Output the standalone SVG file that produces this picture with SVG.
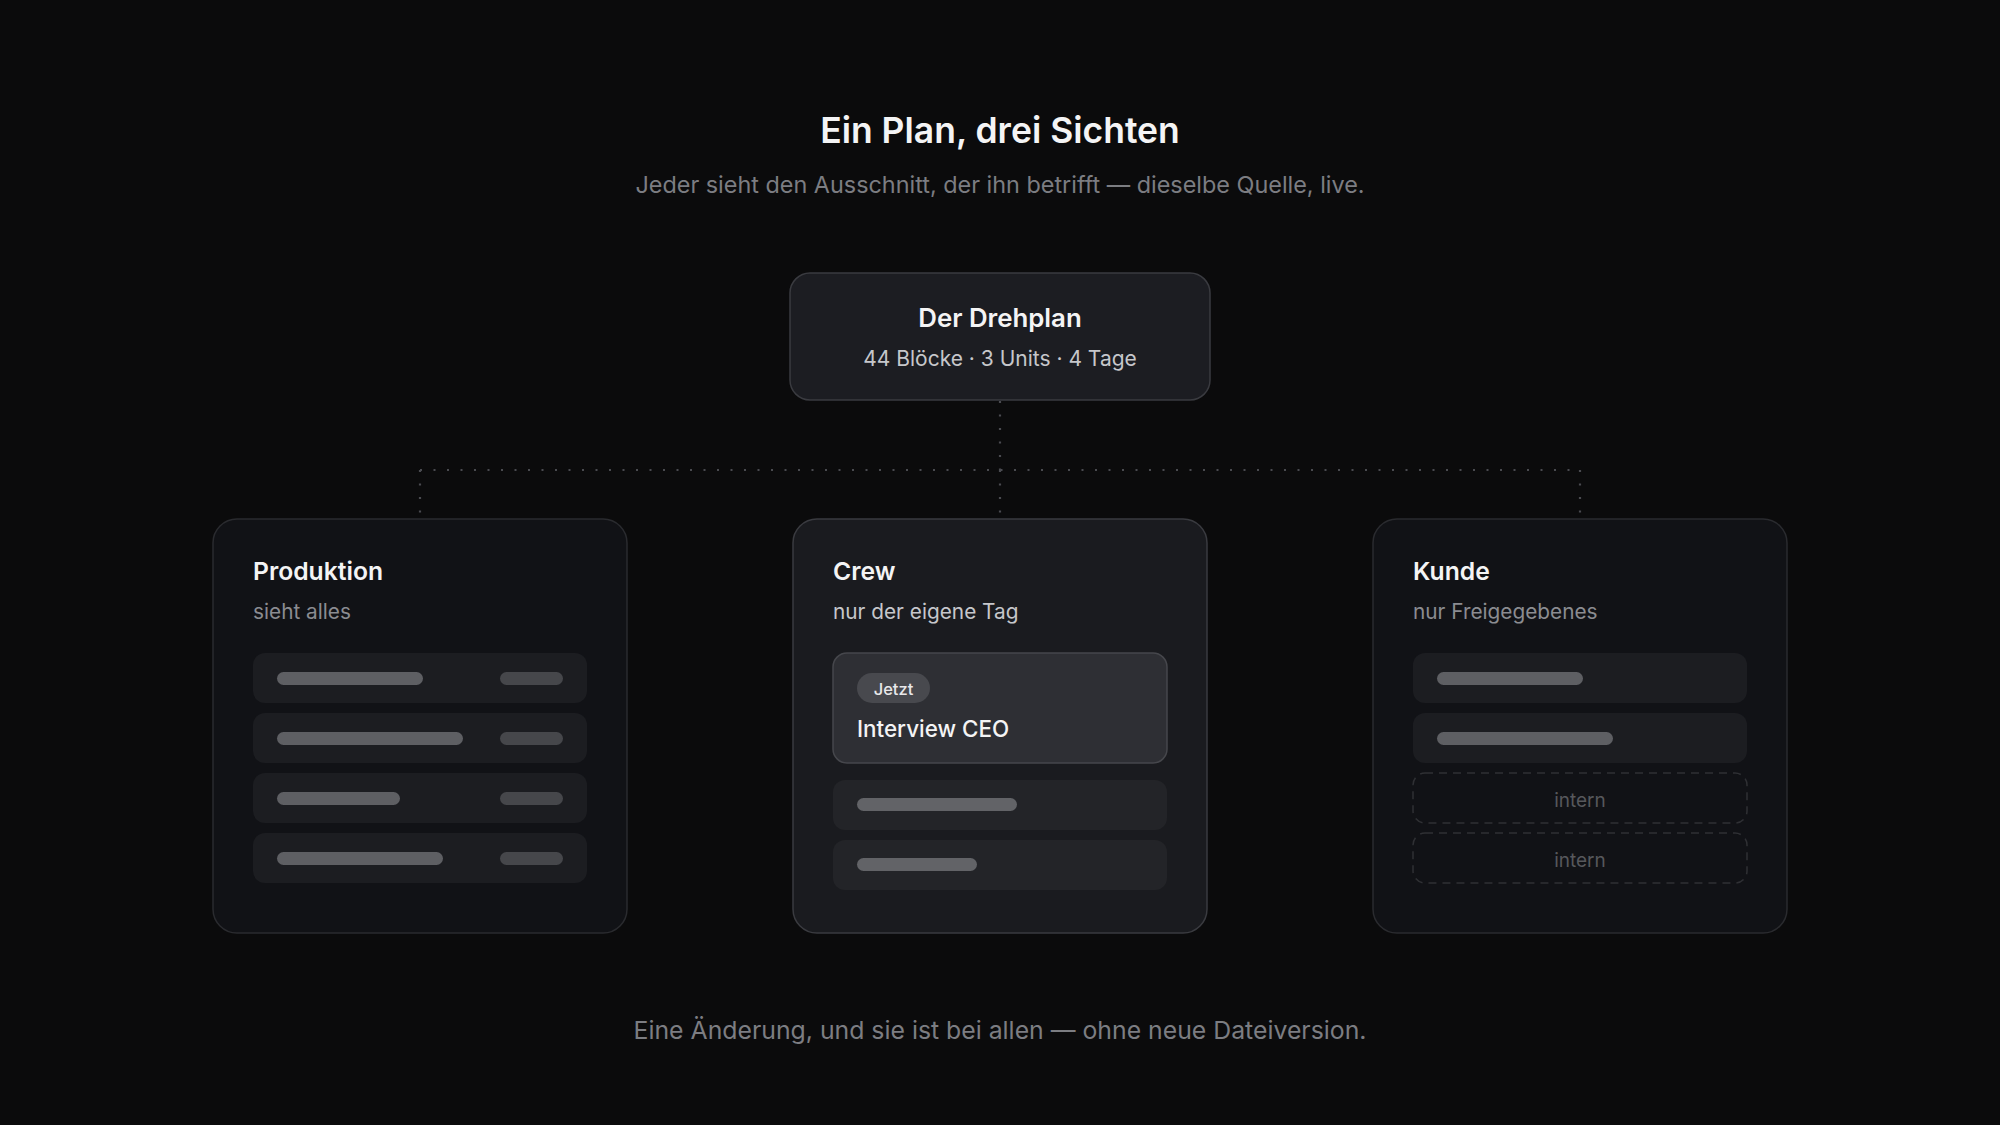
<svg xmlns="http://www.w3.org/2000/svg" width="2000" height="1125" viewBox="0 0 2000 1125">
<style>
text{font-family:Inter,"Noto Sans","Liberation Sans",sans-serif}
.title{font-size:35.5px;font-weight:600;fill:#f4f4f5}
.sub{font-size:23.4px;fill:#7c7d82}
.foot{font-size:24.8px;fill:#7c7d82}
.ct{font-size:24.7px;font-weight:600;fill:#f4f4f5}
.cs{font-size:20.8px;fill:#8b8c91}
.card{fill:#111216;stroke:#2a2b2f;stroke-width:1.5}
.cardA{fill:#1a1b1f;stroke:#3a3b40;stroke-width:1.5}
.row{fill:#1c1d21}
.rowA{fill:#232428}
.barL{fill:#5e5f63}
.barR{fill:#46474b}
.dash{fill:none;stroke:#2f3034;stroke-width:1.5;stroke-dasharray:8 6}
.intern{font-size:19px;fill:#57585c;text-anchor:middle}
.conn{fill:none;stroke:#4a4b50;stroke-width:2.2;stroke-dasharray:2 11.5}
</style>
<rect width="2000" height="1125" fill="#0b0b0c"/>
<text class="title" x="1000" y="143" text-anchor="middle">Ein Plan, drei Sichten</text>
<text class="sub" x="1000" y="193" text-anchor="middle">Jeder sieht den Ausschnitt, der ihn betrifft — dieselbe Quelle, live.</text>

<g id="connectors">
<path class="conn" d="M1000 401 V470"/>
<path class="conn" d="M420 470 H1580"/>
<path class="conn" d="M420 470 V518"/>
<path class="conn" d="M1000 470 V518"/>
<path class="conn" d="M1580 470 V518"/>
</g>

<g id="drehplan">
<rect x="790" y="273" width="420" height="127" rx="20" fill="#1c1d22" stroke="#3a3b40" stroke-width="1.5"/>
<text x="1000" y="327" text-anchor="middle" font-size="25.8" font-weight="600" fill="#f4f4f5">Der Drehplan</text>
<text x="1000" y="366" text-anchor="middle" font-size="21" fill="#c6c7cb">44 Blöcke · 3 Units · 4 Tage</text>
</g>

<g id="produktion">
<rect class="card" x="213" y="519" width="414" height="414" rx="24"/>
<text class="ct" x="253" y="580">Produktion</text>
<text class="cs" x="253" y="619">sieht alles</text>
<rect class="row" x="253" y="653" width="334" height="50" rx="12"/>
<rect class="barL" x="277" y="672" width="146" height="13" rx="6.5"/>
<rect class="barR" x="500" y="672" width="63" height="13" rx="6.5"/>
<rect class="row" x="253" y="713" width="334" height="50" rx="12"/>
<rect class="barL" x="277" y="732" width="186" height="13" rx="6.5"/>
<rect class="barR" x="500" y="732" width="63" height="13" rx="6.5"/>
<rect class="row" x="253" y="773" width="334" height="50" rx="12"/>
<rect class="barL" x="277" y="792" width="123" height="13" rx="6.5"/>
<rect class="barR" x="500" y="792" width="63" height="13" rx="6.5"/>
<rect class="row" x="253" y="833" width="334" height="50" rx="12"/>
<rect class="barL" x="277" y="852" width="166" height="13" rx="6.5"/>
<rect class="barR" x="500" y="852" width="63" height="13" rx="6.5"/>
</g>

<g id="crew">
<rect class="cardA" x="793" y="519" width="414" height="414" rx="24"/>
<text class="ct" x="833" y="580">Crew</text>
<text class="cs" x="833" y="619" style="fill:#c6c7cb">nur der eigene Tag</text>
<rect x="833" y="653" width="334" height="110" rx="14" fill="#2e2f34" stroke="#46474c" stroke-width="1.5"/>
<rect x="857" y="673" width="73" height="30" rx="15" fill="#48494e"/>
<text x="893.5" y="695" text-anchor="middle" font-size="16.5" font-weight="500" fill="#e8e8ea">Jetzt</text>
<text x="857" y="737" font-size="22.4" font-weight="500" fill="#f4f4f5">Interview CEO</text>
<rect class="rowA" x="833" y="780" width="334" height="50" rx="12"/>
<rect x="857" y="798" width="160" height="13" rx="6.5" fill="#626367"/>
<rect class="rowA" x="833" y="840" width="334" height="50" rx="12"/>
<rect x="857" y="858" width="120" height="13" rx="6.5" fill="#626367"/>
</g>

<g id="kunde">
<rect class="card" x="1373" y="519" width="414" height="414" rx="24"/>
<text class="ct" x="1413" y="580">Kunde</text>
<text class="cs" x="1413" y="619">nur Freigegebenes</text>
<rect class="row" x="1413" y="653" width="334" height="50" rx="12"/>
<rect class="barL" x="1437" y="672" width="146" height="13" rx="6.5"/>
<rect class="row" x="1413" y="713" width="334" height="50" rx="12"/>
<rect class="barL" x="1437" y="732" width="176" height="13" rx="6.5"/>
<rect class="dash" x="1413" y="773" width="334" height="50" rx="12"/>
<text class="intern" x="1580" y="807">intern</text>
<rect class="dash" x="1413" y="833" width="334" height="50" rx="12"/>
<text class="intern" x="1580" y="867">intern</text>
</g>

<text class="foot" x="1000" y="1039" text-anchor="middle">Eine Änderung, und sie ist bei allen — ohne neue Dateiversion.</text>
</svg>
